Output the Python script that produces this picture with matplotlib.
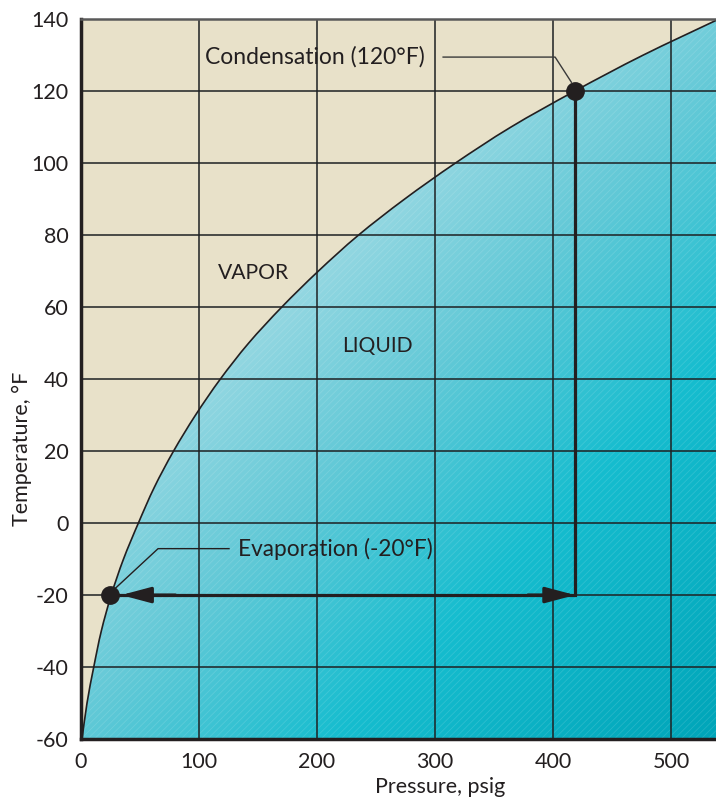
import numpy as np
import matplotlib
matplotlib.use("Agg")
import matplotlib.pyplot as plt
from matplotlib.patches import Polygon, PathPatch
from matplotlib.path import Path
from matplotlib.colors import LinearSegmentedColormap

plt.rcParams['font.family'] = ['Lato', 'DejaVu Sans']
plt.rcParams['hatch.linewidth'] = 0.6
plt.rcParams['axes.unicode_minus'] = False

# Saturation curve (temperature °F vs pressure psig)
temps = [-60, -50, -40, -30, -20, -10, 0, 10, 20, 30, 40, 50, 60, 70, 80, 90, 100, 110, 120, 130, 140]
pressures = [0.9, 5.1, 10.8, 17.2, 25.6, 36.0, 48.6, 62.2, 78.4, 97.0, 118.0, 142.0, 170.0, 201.0, 235.0, 274.0, 317.0, 364.0, 418.0, 476.0, 540.0]

x_ticks = [0, 100, 200, 300, 400, 500]
y_ticks = [-60, -40, -20, 0, 20, 40, 60, 80, 100, 120, 140]

evap_point = (24.6, -20)
cond_point = (418.6, 120)

region_labels = ["VAPOR", "LIQUID"]
region_pos = [(145.8, 69.6), (250.8, 49.3)]

W, H = 716, 799
fig = plt.figure(figsize=(W / 100, H / 100), dpi=100)
L, R, B, T = 81, 716, 739, 19.3
ax = fig.add_axes([L / W, 1 - B / H, (R - L) / W, (B - T) / H])
xmin, xmax, ymin, ymax = 0, 538, -60, 140
ax.set_xlim(xmin, xmax)
ax.set_ylim(ymin, ymax)
ax.set_facecolor('#e8e1c9')


def smooth_path(xs, ys, extra=None):
    """Catmull-Rom spline through the data points, as Bezier segments."""
    P = np.column_stack([xs, ys]).astype(float)
    n = len(P)
    verts = [P[0]]
    codes = [Path.MOVETO]
    for i in range(n - 1):
        p0 = P[i - 1] if i > 0 else P[i]
        p1 = P[i]
        p2 = P[i + 1]
        p3 = P[i + 2] if i + 2 < n else P[i + 1]
        c1 = p1 + (p2 - p0) / 6.0
        c2 = p2 - (p3 - p1) / 6.0
        verts += [c1, c2, p2]
        codes += [Path.CURVE4] * 3
    if extra is not None:
        for e in extra:
            verts.append(e)
            codes.append(Path.LINETO)
        verts.append(P[0])
        codes.append(Path.CLOSEPOLY)
    return Path(verts, codes)


curve_path = smooth_path(pressures, temps)
region_path = smooth_path(pressures, temps, extra=[(560, 140), (560, -60)])

# gradient fill
ny, nx = 300, 300
fx = np.linspace(0, 1, nx)
fy = np.linspace(0, 1, ny)
FX, FY = np.meshgrid(fx, fy)
tgrid = (635 * FX + 720 * (1 - FY)) / 1355
cmap = LinearSegmentedColormap.from_list('liq', [
    (0.0, '#b8e5ec'), (0.35, '#97d8e2'), (0.52, '#62c9d7'),
    (0.72, '#16bdcf'), (1.0, '#00a5b9')])
im = ax.imshow(cmap(tgrid), extent=(xmin, xmax, ymin, ymax), origin='lower',
               aspect='auto', zorder=1, interpolation='bilinear')
clip = PathPatch(region_path, transform=ax.transData, facecolor='none', edgecolor='none')
ax.add_patch(clip)
im.set_clip_path(clip)
hatch = PathPatch(region_path, facecolor='none', edgecolor=(1, 1, 1, 0.13),
                  hatch='/////', linewidth=0, zorder=1.5)
ax.add_patch(hatch)

# grid
ax.set_xticks(x_ticks)
ax.set_yticks(y_ticks)
ax.grid(True, color='#1e2224', alpha=0.85, linewidth=1.3, zorder=2)
for gl in ax.get_xgridlines() + ax.get_ygridlines():
    gl.set_zorder(2)

# curve
ax.add_patch(PathPatch(curve_path, facecolor='none', edgecolor='#231f20', lw=1.2, zorder=3))

# cycle lines
dark = '#231f20'
ax.plot([cond_point[0], cond_point[0], evap_point[0]], [cond_point[1], evap_point[1], evap_point[1]],
        color=dark, lw=2.3, zorder=4, solid_joinstyle='miter')
ax.annotate('', xy=(cond_point[0], evap_point[1]), xytext=(cond_point[0] - 40, evap_point[1]),
            arrowprops=dict(arrowstyle='-|>,head_length=0.9,head_width=0.24', mutation_scale=20,
                            lw=2.3, color=dark, shrinkA=0, shrinkB=0), zorder=5)
ax.annotate('', xy=(34, evap_point[1]), xytext=(80, evap_point[1]),
            arrowprops=dict(arrowstyle='-|>,head_length=0.9,head_width=0.24', mutation_scale=20,
                            lw=2.3, color=dark, shrinkA=0, shrinkB=0), zorder=5)
ax.plot([evap_point[0], cond_point[0]], [evap_point[1], cond_point[1]], 'o', color=dark,
        markersize=12.5, zorder=6, linestyle='none')

# leader lines and labels
ax.plot([306.8, 401.7, 415.5], [129.5, 129.5, 122.5], color='#3a3a3a', lw=1.0, zorder=4)
ax.text(105, 129.5, 'Condensation (120°F)', fontsize=16.5, color='#231f20', va='center', ha='left', zorder=7)
ax.plot([125.4, 65.3, 28.5], [-7.1, -7.1, -18.3], color='#231f20', lw=1.0, zorder=4)
ax.text(133, -7.1, 'Evaporation (-20°F)', fontsize=16.3, color='#231f20', va='center', ha='left', zorder=7)
for lab, (px, py) in zip(region_labels, region_pos):
    ax.text(px, py, lab, fontsize=15.2, color='#231f20', ha='center', va='center', zorder=7)

# axes styling
for s in ['left', 'bottom']:
    ax.spines[s].set_linewidth(2.5)
    ax.spines[s].set_color(dark)
ax.spines['top'].set_linewidth(1.8)
ax.spines['top'].set_color('#5a5a5a')
ax.spines['right'].set_visible(False)
for s in ax.spines.values():
    s.set_zorder(8)
ax.tick_params(axis='both', length=0, labelsize=15.5, labelcolor='#231f20', pad=9)
ax.set_xlabel('Pressure, psig', fontsize=15.5, color='#231f20')
ax.set_ylabel('Temperature, °F', fontsize=15.5, color='#231f20')
ax.xaxis.set_label_coords((440 - L) / (R - L), (B - 787) / (B - T))
ax.yaxis.set_label_coords((22 - L) / (R - L), (B - 449) / (B - T))
ax.xaxis.label.set_va('center')
ax.yaxis.label.set_va('center')

fig.savefig('out.png', dpi=100)
